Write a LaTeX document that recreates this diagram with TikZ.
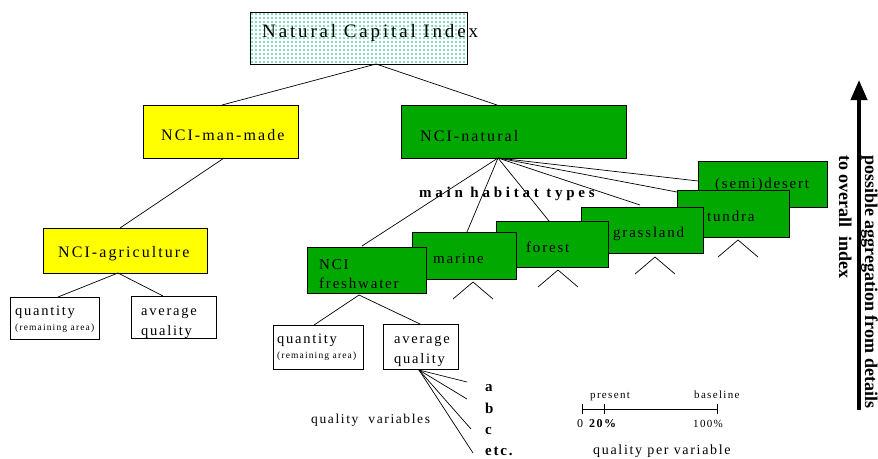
\documentclass[tikz,border=0pt]{standalone}
\usepackage{fontspec}
\setmainfont{Liberation Serif}
\newfontfamily\spacedwide[LetterSpace=15]{Liberation Serif}
\newfontfamily\spacedbox[LetterSpace=13]{Liberation Serif}
\newfontfamily\spaced[LetterSpace=12]{Liberation Serif}
\newfontfamily\spacedbold[LetterSpace=25]{Liberation Serif}
\usetikzlibrary{patterns,arrows.meta,fit}

\definecolor{ncyellow}{RGB}{255,255,0}
\definecolor{ncgreen}{RGB}{0,168,0}
\definecolor{dotcol}{RGB}{0,190,140}

\pgfdeclarepatternformonly{ncidots}{\pgfqpoint{-1pt}{-1pt}}{\pgfqpoint{1pt}{1pt}}{\pgfqpoint{4pt}{4pt}}%
  {\pgfpathcircle{\pgfpointorigin}{0.8pt}\pgfusepath{fill}}

\tikzset{
  box/.style={draw=black, line width=0.8pt, inner sep=0pt},
  yelbox/.style={box, fill=ncyellow},
  grnbox/.style={box, fill=ncgreen},
  whitebox/.style={box, fill=white},
  link/.style={line width=0.7pt},
  txt/.style={anchor=base west, inner sep=0pt},
  maintxt/.style={txt, font=\fontsize{16}{19}\selectfont\spacedbox},
  boxtxt/.style={txt, font=\fontsize{15}{18}\selectfont\spaced},
  smalltxt/.style={txt, font=\fontsize{14.5}{17}\selectfont\spaced},
  tinytxt/.style={txt, font=\fontsize{9.5}{11}\selectfont\spaced},
  scaletxt/.style={txt, font=\fontsize{11}{13}\selectfont\spaced},
  lettertxt/.style={txt, font=\fontsize{15}{18}\selectfont\spaced\bfseries},
  sidetxt/.style={txt, rotate=-90, font=\fontsize{18}{21}\selectfont\bfseries},
}

\begin{document}
\begin{tikzpicture}[x=1pt,y=-1pt]
\useasboundingbox (0,0) rectangle (878,458);
\fill[white] (0,0) rectangle (878,458);

% ---- top level ----
\node[box, pattern=ncidots, pattern color=dotcol, fit={(250,12) (467,64)}] (nci) {};
\node[txt, font=\fontsize{19}{22}\selectfont\spacedwide] (ncit) at (262,37) {Natural Capital Index};

\node[yelbox, fit={(143,105) (298,158)}] (mm) {};
\node[maintxt] (mmt) at (161,140) {NCI-man-made};
\node[grnbox, fit={(401,105) (626,158)}] (nat) {};
\node[maintxt] (natt) at (420,141) {NCI-natural};

\coordinate (nciB) at (376,64);
\coordinate (mmT) at (222,105);
\coordinate (natT) at (497,105);
\draw[link] (nciB) -- (mmT);
\draw[link] (nciB) -- (natT);

% ---- man-made branch ----
\node[yelbox, fit={(43,228) (207,273)}] (agr) {};
\node[maintxt] (agrt) at (58,257) {NCI-agriculture};
\coordinate (mmB) at (224,158);
\coordinate (agrT) at (120,228);
\draw[link] (mmB) -- (agrT);

\node[whitebox, fit={(10,297) (99,339)}] (qa) {};
\node[smalltxt] (qat) at (15,315) {quantity};
\node[tinytxt] (qar) at (15,330) {(remaining area)};
\node[whitebox, fit={(131,296) (216,338)}] (aa) {};
\node[smalltxt] (aat1) at (141,315) {average};
\node[smalltxt] (aat2) at (141,335) {quality};
\coordinate (agrB) at (118,273);
\coordinate (qaT) at (58,297);
\coordinate (aaT) at (163,296);
\draw[link] (agrB) -- (qaT);
\draw[link] (agrB) -- (aaT);

% ---- natural branch: habitat types ----
\coordinate (natB) at (498,158);
\coordinate (fwT) at (362,246);
\coordinate (maT) at (467,232);
\coordinate (foT) at (549,221);
\coordinate (grT) at (640,205);
\coordinate (tuT) at (677,192);
\coordinate (deT) at (698,181);
\node[txt, font=\fontsize{15}{18}\selectfont\spacedbold\bfseries] (mht) at (419,197) {main habitat types};
\foreach \t in {fwT,maT,foT,grT,tuT,deT} \draw[link] (natB) -- (\t);

\node[grnbox, fit={(698,161) (827,207)}] (de) {};
\node[boxtxt] (det) at (715,188) {(semi)desert};
\node[grnbox, fit={(677,190) (789,237)}] (tu) {};
\node[boxtxt] (tut) at (707,221) {tundra};
\node[grnbox, fit={(581,207) (703,253)}] (gr) {};
\node[boxtxt] (grt) at (613,237) {grassland};
\node[grnbox, fit={(496,221) (608,267)}] (fo) {};
\node[boxtxt] (fot) at (526,252) {forest};
\node[grnbox, fit={(412,232) (516,279)}] (ma) {};
\node[boxtxt] (mat) at (433,263) {marine};
\node[grnbox, fit={(307,247) (426,293)}] (fw) {};
\node[boxtxt] (fwt1) at (319,269) {NCI};
\node[boxtxt] (fwt2) at (319,288) {freshwater};

% carets below the habitat boxes
\foreach \ax/\ay in {473/282, 558/270, 655/257, 738/240}
  \draw[link] (\ax-20,\ay+17) -- (\ax,\ay) -- (\ax+20,\ay+17);

% ---- freshwater sub-branches ----
\node[whitebox, fit={(273,325) (363,369)}] (qf) {};
\node[smalltxt] (qft) at (277,343) {quantity};
\node[tinytxt] (qfr) at (277,358) {(remaining area)};
\node[whitebox, fit={(383,324) (458,369)}] (af) {};
\node[smalltxt] (aft1) at (394,343) {average};
\node[smalltxt] (aft2) at (394,363) {quality};
\coordinate (fwB) at (359,295);
\coordinate (qfT) at (314,325);
\coordinate (afT) at (420,324);
\draw[link] (fwB) -- (qfT);
\draw[link] (fwB) -- (afT);

% quality variables fan
\coordinate (afB) at (419,370);
\coordinate (va) at (467,382);
\coordinate (vb) at (467,399);
\coordinate (vc) at (471,429);
\coordinate (vd) at (473,453);
\foreach \v in {va,vb,vc,vd} \draw[link] (afB) -- (\v);
\node[lettertxt] (la) at (485,391) {a};
\node[lettertxt] (lb) at (485,413) {b};
\node[lettertxt] (lc) at (485,434) {c};
\node[lettertxt] (ld) at (485,455) {etc.};
\node[txt, font=\fontsize{13.5}{16}\selectfont\spaced] (qvt) at (311,423) {quality\ \ variables};

% ---- scale bar ----
\coordinate (s0) at (582,409);
\coordinate (s1) at (717,409);
\coordinate (sp) at (604,409);
\draw[link] (s0) -- (s1);
\foreach \c in {s0,sp,s1} \draw[link] ([yshift=5pt]\c) -- ([yshift=-5pt]\c);
\node[scaletxt] (spt) at (590,398) {present};
\node[scaletxt] (sbt) at (694,398) {baseline};
\node[scaletxt, font=\fontsize{12}{14}\selectfont\spaced] (s0t) at (577,427) {0};
\node[txt, font=\fontsize{12}{14}\selectfont\spaced\bfseries] (s20t) at (589,427) {20\%};
\node[scaletxt] (s100t) at (693,427) {100\%};
\node[txt, font=\fontsize{14}{16}\selectfont\spaced] (sqt) at (593,454) {quality per variable};

% ---- aggregation arrow ----
\coordinate (arB) at (859,410);
\coordinate (arT) at (859,80);
\draw[line width=4pt, -{Triangle[length=20pt,width=16pt]}] (arB) -- (arT);
\node[sidetxt] (ag1) at (865,155) {possible aggregation from details};
\node[sidetxt] (ag2) at (839,155) {to overall\ \ index};
\end{tikzpicture}
\end{document}
